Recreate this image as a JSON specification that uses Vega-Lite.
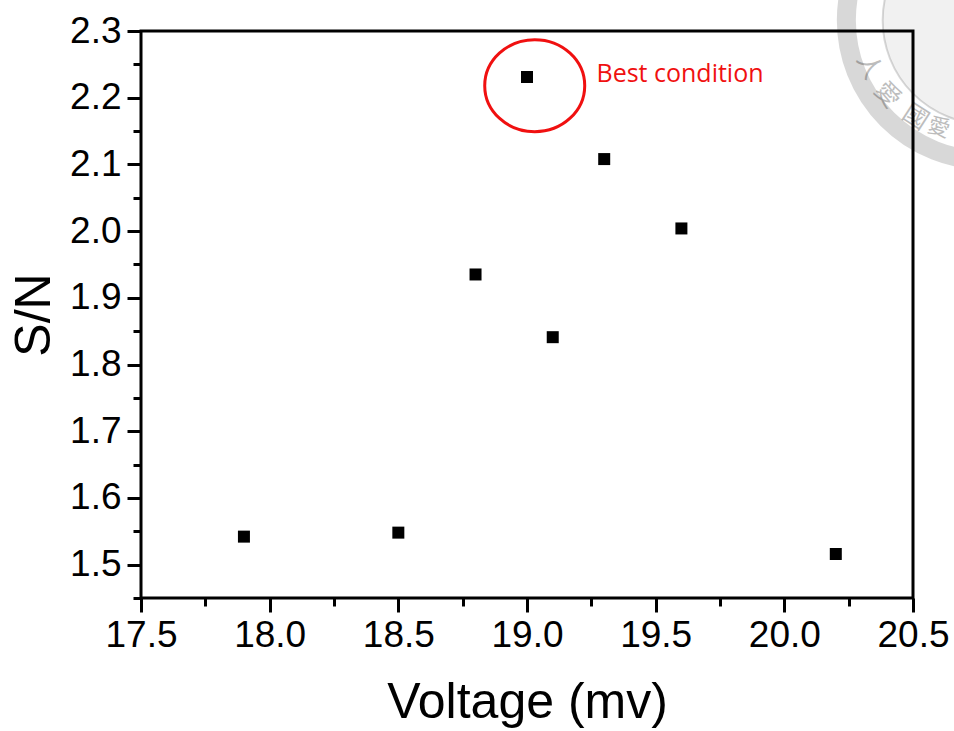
{
"$schema":"https://vega.github.io/schema/vega-lite/v6.json",
"width":772,"height":567,
"autosize":{"type":"none"},
"padding":{"left":141,"top":31,"right":41,"bottom":133},
"background":"white",
"config":{"view":{"stroke":"black","strokeWidth":3,"fill":"transparent"},"font":"Liberation Sans"},
"resolve":{"axis":{"x":"independent","y":"independent"}},
"encoding":{
 "x":{"field":"v","type":"quantitative","scale":{"domain":[17.5,20.5],"nice":false,"zero":false},"axis":null},
 "y":{"field":"s","type":"quantitative","scale":{"domain":[1.45,2.3],"nice":false,"zero":false},"axis":null}
},
"layer":[
{"data":{"values":[{"v":20.785,"s":2.316}]},
 "mark":{"type":"point","filled":false,"stroke":"black","strokeWidth":19,"opacity":0.15,"size":78400,"shape":"circle","clip":false}},
{"data":{"values":[{"v":20.785,"s":2.316}]},
 "mark":{"type":"point","filled":true,"fill":"black","fillOpacity":0.055,"stroke":"black","strokeOpacity":0.15,"strokeWidth":2,"size":43000,"shape":"circle","clip":false}},
{"data":{"values":[{"t":"人","v":20.33,"s":2.247}]},
 "mark":{"type":"text","font":"Noto Sans CJK TC","fontSize":25,"fill":"black","opacity":0.26,"angle":64,"clip":false},
 "encoding":{"text":{"field":"t"}}},
{"data":{"values":[{"t":"愛","v":20.40,"s":2.204}]},
 "mark":{"type":"text","font":"Noto Sans CJK TC","fontSize":25,"fill":"black","opacity":0.26,"angle":49,"clip":false},
 "encoding":{"text":{"field":"t"}}},
{"data":{"values":[{"t":"國","v":20.51,"s":2.171}]},
 "mark":{"type":"text","font":"Noto Sans CJK TC","fontSize":25,"fill":"black","opacity":0.26,"angle":33,"clip":false},
 "encoding":{"text":{"field":"t"}}},
{"data":{"values":[{"t":"愛","v":20.6,"s":2.155}]},
 "mark":{"type":"text","font":"Noto Sans CJK TC","fontSize":22,"fill":"black","opacity":0.26,"angle":17,"clip":false},
 "encoding":{"text":{"field":"t"}}},
{"data":{"values":[{"v":17.9,"s":1.542},{"v":18.5,"s":1.548},{"v":18.8,"s":1.935},{"v":19.0,"s":2.231},{"v":19.1,"s":1.841},{"v":19.3,"s":2.108},{"v":19.6,"s":2.004},{"v":20.2,"s":1.516}]},
 "mark":{"type":"point","shape":"square","filled":true,"fill":"black","stroke":null,"size":144,"opacity":1},
 "encoding":{
  "x":{"field":"v","type":"quantitative","axis":{"orient":"bottom","title":"Voltage (mv)","values":[17.5,18,18.5,19,19.5,20,20.5],"format":".1f","grid":false,"domain":false,"tickColor":"black","tickWidth":3,"tickSize":14,"labelColor":"black","labelFontSize":37,"labelFont":"Liberation Sans","labelPadding":5,"labelOverlap":false,"labelFlush":false,"titleColor":"black","titleFontSize":50,"titleFont":"Liberation Sans","titleFontWeight":"normal","titlePadding":24}},
  "y":{"field":"s","type":"quantitative","axis":{"orient":"left","title":"S/N","values":[1.5,1.6,1.7,1.8,1.9,2.0,2.1,2.2,2.3],"format":".1f","grid":false,"domain":false,"tickColor":"black","tickWidth":3,"tickSize":14,"labelColor":"black","labelFontSize":37,"labelFont":"Liberation Sans","labelPadding":6,"labelOverlap":false,"labelFlush":false,"titleColor":"black","titleFontSize":50,"titleFont":"Liberation Sans","titleFontWeight":"normal","titlePadding":10}}}},
{"data":{"values":[{"v":19.03,"s":2.218}]},
 "mark":{"type":"point","filled":false,"stroke":"#f01010","strokeWidth":3,"opacity":1,"size":10000,"shape":"M -1 0 A 1 0.92 0 1 0 1 0 A 1 0.92 0 1 0 -1 0 Z"}},
{"data":{"values":[{"v":19.27,"s":2.235,"t":"Best condition"}]},
 "mark":{"type":"text","align":"left","baseline":"middle","font":"Open Sans","fontSize":25,"fill":"#f01010"},
 "encoding":{"text":{"field":"t"}}},
{"data":{"values":[{"v":17.75,"s":1.45}]},
 "mark":{"type":"point","opacity":0},
 "encoding":{
  "x":{"field":"v","type":"quantitative","axis":{"orient":"bottom","title":null,"values":[17.75,18.25,18.75,19.25,19.75,20.25],"labels":false,"grid":false,"domain":false,"tickColor":"black","tickWidth":3,"tickSize":8}},
  "y":{"field":"s","type":"quantitative","axis":{"orient":"left","title":null,"values":[1.45,1.55,1.65,1.75,1.85,1.95,2.05,2.15,2.25],"labels":false,"grid":false,"domain":false,"tickColor":"black","tickWidth":3,"tickSize":8}}}}
]
}
